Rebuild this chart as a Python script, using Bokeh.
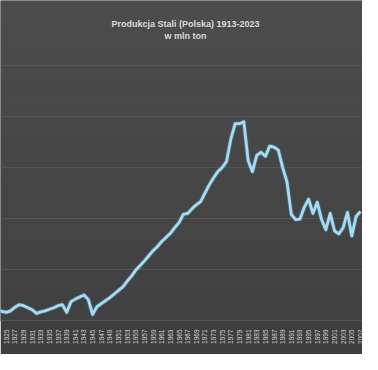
import numpy as np
from bokeh.plotting import figure
from bokeh.models import FixedTicker, Label, BoxAnnotation, Range1d
from bokeh.embed import file_html
from bokeh.resources import INLINE

# ---- data (mln ton) ----
years = list(range(1923, 2008))
steel = [
    1.05, 0.90, 0.80, 0.95, 1.30, 1.55, 1.45, 1.25, 1.05, 0.70,   # 1923-1932
    0.85, 0.95, 1.10, 1.25, 1.45, 1.55, 0.80, 1.85, 2.10, 2.30,   # 1933-1942
    2.50, 2.05, 0.60, 1.35, 1.65, 1.95, 2.25, 2.60, 2.95, 3.30,   # 1943-1952
    3.85, 4.35, 4.95, 5.40, 5.85, 6.35, 6.85, 7.25, 7.75, 8.15,   # 1953-1962
    8.55, 9.10, 9.60, 10.40, 10.50, 10.95, 11.35, 11.65, 12.50, 13.30,  # 1963-1972
    14.00, 14.60, 15.00, 15.60, 17.80, 19.30, 19.30, 19.50, 15.70, 14.60,  # 1973-1982
    16.20, 16.50, 16.10, 17.10, 17.00, 16.70, 15.00, 13.60, 10.40, 9.90,  # 1983-1992
    9.95, 11.10, 11.90, 10.50, 11.60, 9.90, 8.90, 10.50, 8.80, 8.50,   # 1993-2002
    9.10, 10.60, 8.30, 10.20, 10.70,                                  # 2003-2007
]
tick_years = list(range(1925, 2008, 2))
tick_labels = [str(y) for y in tick_years]
grid_values = [0, 5, 10, 15, 20, 25]

title_text = "Produkcja Stali (Polska) 1913-2023"
subtitle_text = "w mln ton"

# ---- geometry ----
W, H = 362, 354
BOTTOM = 34
frame_h = H - BOTTOM
px_per_unit = (frame_h - 65.1) / 25.0
y_end = frame_h / px_per_unit
x_start, x_end = 1923.67, 2007.48

p = figure(width=W, height=H, output_backend="svg", toolbar_location=None,
           x_range=Range1d(x_start, x_end), y_range=Range1d(0, y_end),
           min_border_left=0, min_border_right=0, min_border_top=0,
           min_border_bottom=BOTTOM)

p.background_fill_color = "#474747"
p.border_fill_color = "#3e3e3e"
p.outline_line_color = None

# subtle vertical gradient of the background
n_bands = 24
top_c = np.array([0x4d, 0x4d, 0x4d])
bot_c = np.array([0x41, 0x41, 0x41])
edges = np.linspace(0, y_end, n_bands + 1)
for i in range(n_bands):
    t = (i + 0.5) / n_bands
    c = (bot_c + (top_c - bot_c) * t).astype(int)
    col = "#%02x%02x%02x" % tuple(c)
    p.add_layout(BoxAnnotation(bottom=edges[i], top=edges[i + 1],
                               fill_color=col, fill_alpha=1.0, line_color=None,
                               level="image"))

# grid
p.xgrid.visible = False
p.ygrid.ticker = FixedTicker(ticks=grid_values)
p.ygrid.grid_line_color = "#555555"
p.ygrid.grid_line_width = 1
p.ygrid.level = "underlay"
p.yaxis.visible = False

# x axis
p.xaxis.ticker = FixedTicker(ticks=tick_years)
p.xaxis.major_label_overrides = {y: l for y, l in zip(tick_years, tick_labels)}
p.xaxis.major_label_orientation = np.pi / 2
p.xaxis.major_label_text_color = "#d4d4d4"
p.xaxis.major_label_text_font = "Liberation Sans"
p.xaxis.major_label_text_font_size = "6.5px"
p.xaxis.major_label_standoff = 3
p.xaxis.major_tick_line_color = None
p.xaxis.minor_tick_line_color = None
p.xaxis.axis_line_color = "#525252"

# line with a soft darker edge
p.line(years, steel, line_color="#4f8fb3", line_width=4.4, line_alpha=0.55,
       line_join="round")
p.line(years, steel, line_color="#a9daf0", line_width=2.8, line_join="round")

# titles
def y_at(px):
    return (frame_h - px) / px_per_unit

x_mid = x_start + (185.0 / W) * (x_end - x_start)
p.add_layout(Label(x=x_mid, y=y_at(23), text=title_text, text_align="center",
                   text_baseline="middle", text_color="#dadada",
                   text_font="Liberation Sans", text_font_style="bold",
                   text_font_size="9px"))
p.add_layout(Label(x=x_mid, y=y_at(35.5), text=subtitle_text, text_align="center",
                   text_baseline="middle", text_color="#dadada",
                   text_font="Liberation Sans", text_font_style="bold",
                   text_font_size="9px"))

open("out.html", "w").write(file_html(p, INLINE))
